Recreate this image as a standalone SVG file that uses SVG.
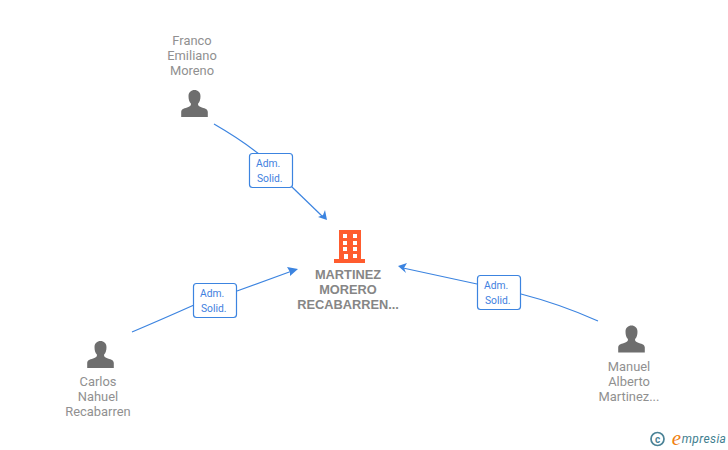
<svg xmlns="http://www.w3.org/2000/svg" width="728" height="450" viewBox="0 0 728 450">
<style>
text{font-family:"Roboto","Liberation Sans",Arial,sans-serif;text-anchor:middle}
.n{font-size:12.900px;fill:#909090}
.c{font-size:12.800px;fill:#868686;font-weight:700;font-family:"Liberation Sans",Arial,sans-serif}
.l{font-size:10.300px;fill:#3f7fe0;text-anchor:start}
.e{fill:none;stroke:#3c84e0;stroke-width:1.200}
.b{fill:#fff;stroke:#3c84e0;stroke-width:1.200}
.p{fill:#6e6e6e}
.a{fill:#3c84e0}
</style>
<defs>
<path id="u" transform="scale(.95 .9)" d="M-14,15 V9.500 C-14,6 -10,5.500 -6.500,4 C-4,3 -3.500,1.500 -3.800,0 C-5.500,-1.500 -6.300,-4.500 -6.300,-8 C-6.300,-12.500 -3.500,-15 0,-15 C3.500,-15 6.300,-12.500 6.300,-8 C6.300,-4.500 5.500,-1.500 3.800,0 C3.500,1.500 4,3 6.500,4 C10,5.500 14,6 14,9.500 V15 Z"/>
</defs>
<g id="connectors">
<path class="e" d="M214,124 Q240,139 259,154"/>
<path class="e" d="M292,187 L322,216"/>
<path class="a" d="M327,220 L318,217 L323,215 L325,210 Z"/>
<path class="e" d="M132,332 Q165,318 194,305"/>
<path class="e" d="M237,291 L292,271"/>
<path class="a" d="M298,269 L290,276 L290,272 L287,267 Z"/>
<path class="e" d="M598,321 Q560,304 521,294"/>
<path class="e" d="M477,284 L403,268"/>
<path class="a" d="M398,266 L407,263 L404,268 L406,273 Z"/>
</g>
<g id="label-franco"><rect class="b" x="249.500" y="153.500" width="43" height="34" rx="3"/><text class="l" x="256" y="167">Adm.</text><text class="l" x="257" y="182">Solid.</text></g>
<g id="label-carlos"><rect class="b" x="193.500" y="283.500" width="43" height="34" rx="3"/><text class="l" x="200" y="297">Adm.</text><text class="l" x="201" y="312">Solid.</text></g>
<g id="label-manuel"><rect class="b" x="477.500" y="275.500" width="43" height="34" rx="3"/><text class="l" x="484" y="289">Adm.</text><text class="l" x="485" y="304">Solid.</text></g>
<g id="node-company">
<path fill="#ff5c2e" d="M339,230 H361 V259 H365 V263 H334 V259 H339 Z"/>
<g fill="#fff">
<rect x="343" y="234" width="4" height="4"/><rect x="353" y="234" width="4" height="4"/>
<rect x="343" y="241" width="4" height="4"/><rect x="353" y="241" width="4" height="4"/>
<rect x="343" y="247" width="4" height="4"/><rect x="353" y="247" width="4" height="4"/>
<rect x="344" y="254" width="4" height="5"/><rect x="353" y="254" width="4" height="4"/>
</g>
<text class="c" x="348" y="279">MARTINEZ</text><text class="c" x="348" y="294">MORERO</text><text class="c" x="348" y="309">RECABARREN...</text>
</g>
<g id="node-franco"><use class="p" href="#u" x="194.500" y="103.500"/><text class="n" x="192" y="45">Franco</text><text class="n" x="192" y="60">Emiliano</text><text class="n" x="192" y="75">Moreno</text></g>
<g id="node-carlos"><use class="p" href="#u" x="100.500" y="354.500"/><text class="n" x="98" y="386">Carlos</text><text class="n" x="98" y="401">Nahuel</text><text class="n" x="98" y="416">Recabarren</text></g>
<g id="node-manuel"><use class="p" href="#u" x="631.500" y="339"/><text class="n" x="629" y="371">Manuel</text><text class="n" x="629" y="386">Alberto</text><text class="n" x="629" y="401">Martinez...</text></g>
<g id="watermark">
<circle cx="657.500" cy="439" r="6.500" fill="none" stroke="#4a8296" stroke-width="1.700"/>
<text x="657.500" y="442.500" style="font-size:10px;fill:#4a8296;font-weight:700">c</text>
<text x="676.500" y="445" style="font-size:21px;fill:#f08010;font-family:'Liberation Serif',serif;font-style:italic">e</text>
<text x="704" y="443" style="font-size:12px;fill:#3f8090;font-style:italic;letter-spacing:.4px">mpresia</text>
</g>
</svg>
